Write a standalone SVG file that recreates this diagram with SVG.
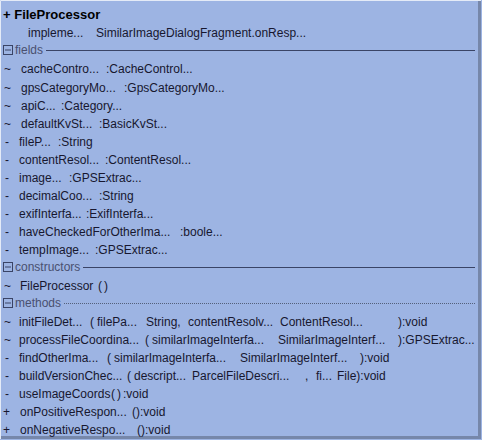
<svg xmlns="http://www.w3.org/2000/svg" width="482" height="440" viewBox="0 0 482 440">
<style>
text{font-family:"Liberation Sans",Arial,sans-serif;font-size:12px;fill:#17172f}
.t{font-size:13px;font-weight:bold;fill:#000}
.h{fill:#4a5070}
.ln{stroke:#3a4466;stroke-width:1}
.dl{stroke:#55607a;stroke-width:1;stroke-dasharray:1 1}
.bx{fill:none;stroke:#3a4466;stroke-width:1}
</style>
<rect x="0" y="0" width="482" height="440" fill="#9db4e3"/>
<path d="M0.5 439V0.5H481" fill="none" stroke="#e4ebf7"/>
<path d="M1 437.5H479.5V1" fill="none" stroke="#7687aa" stroke-width="3"/>
<g id="FileProcessor">
<text x="3" y="19" class="t">+  FileProcessor</text>
<text x="28" y="37">impleme...</text><text x="96" y="37">SimilarImageDialogFragment.onResp...</text>
<g id="fields">
<rect x="3.5" y="45.5" width="9" height="9" class="bx"/><path d="M5 50H11" class="ln"/>
<text x="15" y="54" class="h">fields</text><path d="M46 50.5H475" class="ln"/>
<text x="4" y="73">~</text><text x="21" y="73">cacheContro...</text><text x="106" y="73">:CacheControl...</text>
<text x="4" y="92">~</text><text x="21" y="92">gpsCategoryMo...</text><text x="124" y="92">:GpsCategoryMo...</text>
<text x="4" y="110">~</text><text x="21" y="110">apiC...</text><text x="61" y="110">:Category...</text>
<text x="4" y="128">~</text><text x="21" y="128">defaultKvSt...</text><text x="99" y="128">:BasicKvSt...</text>
<text x="5" y="146">-</text><text x="19" y="146">fileP...</text><text x="58" y="146">:String</text>
<text x="5" y="164">-</text><text x="19" y="164">contentResol...</text><text x="105" y="164">:ContentResol...</text>
<text x="5" y="182">-</text><text x="19" y="182">image...</text><text x="69" y="182">:GPSExtrac...</text>
<text x="5" y="200">-</text><text x="19" y="200">decimalCoo...</text><text x="99" y="200">:String</text>
<text x="5" y="218">-</text><text x="19" y="218">exifInterfa...</text><text x="86" y="218">:ExifInterfa...</text>
<text x="5" y="236">-</text><text x="19" y="236">haveCheckedForOtherIma...</text><text x="180" y="236">:boole...</text>
<text x="5" y="254">-</text><text x="19" y="254">tempImage...</text><text x="95" y="254">:GPSExtrac...</text>
</g>
<g id="constructors">
<rect x="3.5" y="262.5" width="9" height="9" class="bx"/><path d="M5 267H11" class="ln"/>
<text x="15" y="271" class="h">constructors</text><path d="M83 267.5H475" class="ln"/>
<text x="4" y="290">~</text><text x="20" y="290">FileProcessor</text><text x="98" y="290">(</text><text x="104" y="290">)</text>
</g>
<g id="methods">
<rect x="3.5" y="298.5" width="9" height="9" class="bx"/><path d="M5 303H11" class="ln"/>
<text x="15" y="307" class="h">methods</text><path d="M64 303.5H475" class="dl"/>
<text x="4" y="326">~</text><text x="19" y="326">initFileDet...</text><text x="90" y="326">(</text><text x="97" y="326">filePa...</text><text x="146" y="326">String,</text><text x="188" y="326">contentResolv...</text><text x="280" y="326">ContentResol...</text><text x="398" y="326">):void</text>
<text x="4" y="344">~</text><text x="19" y="344">processFileCoordina...</text><text x="145" y="344">(</text><text x="152" y="344">similarImageInterfa...</text><text x="278" y="344">SimilarImageInterf...</text><text x="398" y="344">):GPSExtrac...</text>
<text x="5" y="362">-</text><text x="19" y="362">findOtherIma...</text><text x="107" y="362">(</text><text x="114" y="362">similarImageInterfa...</text><text x="240" y="362">SimilarImageInterf...</text><text x="360" y="362">):void</text>
<text x="5" y="380">-</text><text x="19" y="380">buildVersionChec...</text><text x="127" y="380">(</text><text x="134" y="380">descript...</text><text x="192" y="380">ParcelFileDescri...</text><text x="305" y="380">,</text><text x="316" y="380">fi...</text><text x="337" y="380">File):void</text>
<text x="5" y="398">-</text><text x="19" y="398">useImageCoords</text><text x="111" y="398">(</text><text x="117" y="398">)</text><text x="123" y="398">:void</text>
<text x="3" y="416">+</text><text x="20" y="416">onPositiveRespon...</text><text x="132" y="416">():void</text>
<text x="3" y="434">+</text><text x="20" y="434">onNegativeRespo...</text><text x="137" y="434">():void</text>
</g>
</g>
</svg>
